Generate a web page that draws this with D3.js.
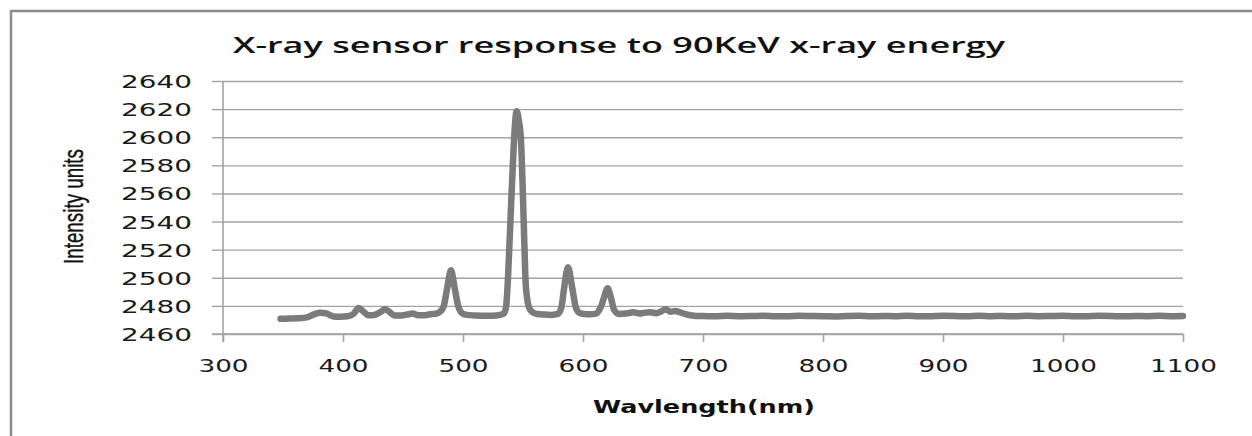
<!DOCTYPE html>
<html>
<head>
<meta charset="utf-8">
<script src="https://cdn.jsdelivr.net/npm/d3@7"></script>
<style>
  html, body { margin: 0; padding: 0; background: #ffffff; }
  svg { display: block; }
</style>
</head>
<body>
<svg id="chart" width="1252" height="436"></svg>
<script>
const chartTitle = "X-ray sensor response to 90KeV x-ray energy";
const xAxisTitle = "Wavlength(nm)";
const yAxisTitle = "Intensity units";

const xTicks = [300, 400, 500, 600, 700, 800, 900, 1000, 1100];
const yTicks = [2460, 2480, 2500, 2520, 2540, 2560, 2580, 2600, 2620, 2640];

const wavelength = [
  348, 355, 362, 370, 376, 381, 386, 392, 398, 404,
  409, 413, 417, 421, 426, 431, 435, 439, 443, 449,
  453, 458, 463, 468, 474, 478, 481, 484, 486.5, 490,
  493, 496, 499, 503, 510, 520, 528, 534, 536, 537.5,
  539.5, 541.5, 543, 544.7, 546.5, 548.3, 550.6, 552, 553.5, 555,
  558, 562, 568, 574, 579, 582, 584, 587.5, 591, 594,
  597, 601, 606, 611, 613.5, 615.5, 617.5, 620.5, 623.5, 626,
  630, 636, 642, 647, 652, 656, 661, 665, 669, 673,
  677, 681, 686, 691, 696, 700, 710, 720, 730, 740,
  750, 760, 770, 780, 790, 800, 810, 820, 830, 840,
  850, 860, 870, 880, 890, 900, 910, 920, 930, 940,
  950, 960, 970, 980, 990, 1000, 1010, 1020, 1030, 1040,
  1050, 1060, 1070, 1080, 1090, 1100
];
const intensity = [
  2470.8, 2471.0, 2471.2, 2471.8, 2474.0, 2475.2, 2474.6, 2472.5, 2472.3, 2472.6,
  2474.5, 2478.5, 2476.0, 2473.3, 2473.5, 2475.5, 2477.6, 2475.5, 2473.2, 2473.2,
  2473.8, 2474.5, 2473.3, 2473.4, 2474.2, 2474.6, 2476.0, 2480.0, 2491.0, 2505.3,
  2493.0, 2480.0, 2475.0, 2473.6, 2473.2, 2473.0, 2473.2, 2474.5, 2480.0, 2500.0,
  2540.0, 2580.0, 2605.0, 2618.5, 2612.0, 2598.0, 2540.0, 2500.0, 2485.0, 2479.0,
  2475.5, 2474.2, 2473.8, 2473.6, 2474.3, 2479.0, 2491.0, 2507.5, 2493.0, 2479.0,
  2475.0, 2474.2, 2474.0, 2474.5, 2477.0, 2480.5, 2486.0, 2492.5, 2485.0, 2477.0,
  2474.3, 2474.6, 2475.4, 2474.6, 2475.2, 2475.4, 2474.8, 2476.0, 2477.6, 2475.8,
  2476.3, 2475.4, 2474.0, 2473.2, 2472.8, 2472.8, 2472.6, 2472.9, 2472.7, 2472.8,
  2473.0, 2472.7, 2472.6, 2472.9, 2472.8, 2472.7, 2472.5, 2472.8, 2472.9, 2472.6,
  2472.8, 2472.7, 2473.0, 2472.6, 2472.7, 2472.9, 2472.8, 2472.6, 2473.0, 2472.7,
  2472.8, 2472.6, 2472.9, 2472.7, 2472.8, 2472.9, 2472.6, 2472.7, 2472.9, 2472.8,
  2472.6, 2472.8, 2472.7, 2472.9, 2472.7, 2472.8
];

const svg = d3.select("#chart");
const W = 1252, H = 436;
const plot = { left: 223, right: 1183, top: 81, bottom: 334 };

const x = d3.scaleLinear().domain([300, 1100]).range([plot.left, plot.right]);
const y = d3.scaleLinear().domain([2460, 2640]).range([plot.bottom, plot.top]);

// Outer frame (top and left edges visible)
svg.append("line").attr("x1", 11).attr("x2", W).attr("y1", 11).attr("y2", 11)
  .attr("stroke", "#8c8c8c").attr("stroke-width", 2.5);
svg.append("line").attr("x1", 11).attr("x2", 11).attr("y1", 10).attr("y2", H)
  .attr("stroke", "#8c8c8c").attr("stroke-width", 2.5);

// Gridlines via y axis
const gridColor = "#a3a3a3";
const yAxis = d3.axisLeft(y).tickValues(yTicks).tickSize(-(plot.right - plot.left)).tickFormat("");
const gGrid = svg.append("g").attr("transform", `translate(${plot.left},0)`).call(yAxis);
gGrid.select(".domain").remove();
gGrid.selectAll(".tick line").attr("stroke", gridColor).attr("stroke-width", 1.4);
gGrid.selectAll(".tick").append("line")
  .attr("x1", -11).attr("x2", 0).attr("stroke", gridColor).attr("stroke-width", 1.4);

// Y tick labels
gGrid.selectAll(".tick").append("text")
  .attr("x", -102).attr("y", 6.5)
  .attr("text-anchor", "start")
  .attr("font-family", "DejaVu Sans")
  .attr("font-size", 18)
  .attr("fill", "#1a1a1a")
  .attr("textLength", 71)
  .attr("lengthAdjust", "spacingAndGlyphs")
  .text(d => d);

// Y axis line
svg.append("line").attr("x1", plot.left).attr("x2", plot.left)
  .attr("y1", plot.top).attr("y2", plot.bottom + 8)
  .attr("stroke", gridColor).attr("stroke-width", 1.6);

// X axis
const xAxis = d3.axisBottom(x).tickValues(xTicks).tickSize(8).tickFormat("");
const gX = svg.append("g").attr("transform", `translate(0,${plot.bottom})`).call(xAxis);
gX.select(".domain").attr("stroke", gridColor).attr("stroke-width", 1.6)
  .attr("d", `M${plot.left - 11},0H${plot.right}`);
gX.selectAll(".tick line").attr("stroke", gridColor).attr("stroke-width", 1.6);
gX.selectAll(".tick").append("text")
  .attr("y", 38)
  .attr("text-anchor", "middle")
  .attr("font-family", "DejaVu Sans")
  .attr("font-size", 17)
  .attr("fill", "#1a1a1a")
  .attr("textLength", d => String(d).length * 16.7)
  .attr("lengthAdjust", "spacingAndGlyphs")
  .text(d => d);

// Data line
const line = d3.line()
  .x((d, i) => x(wavelength[i]))
  .y((d, i) => y(intensity[i]))
  .curve(d3.curveMonotoneX);

svg.append("path")
  .datum(intensity)
  .attr("d", line)
  .attr("fill", "none")
  .attr("stroke", "#7b7b7b")
  .attr("stroke-width", 6.5)
  .attr("stroke-linejoin", "round")
  .attr("stroke-linecap", "round");

// Title
svg.append("text")
  .attr("x", 233).attr("y", 53)
  .attr("font-family", "Open Sans")
  .attr("font-weight", 600)
  .attr("font-size", 21)
  .attr("fill", "#111")
  .attr("textLength", 772)
  .attr("lengthAdjust", "spacingAndGlyphs")
  .text(chartTitle);

// X axis title
svg.append("text")
  .attr("x", 593).attr("y", 413)
  .attr("font-family", "DejaVu Sans")
  .attr("font-weight", "bold")
  .attr("font-size", 18)
  .attr("fill", "#111")
  .attr("textLength", 222)
  .attr("lengthAdjust", "spacingAndGlyphs")
  .text(xAxisTitle);

// Y axis title (rotated, horizontally stretched)
svg.append("text")
  .attr("transform", "translate(83,206.5) scale(1.5,1) rotate(-90)")
  .attr("x", 0).attr("y", 0)
  .attr("text-anchor", "middle")
  .attr("font-family", "Liberation Sans Narrow, Liberation Sans")
  .attr("font-size", 19)
  .attr("fill", "#111")
  .attr("stroke", "#111")
  .attr("stroke-width", 0.25)
  .attr("textLength", 115)
  .attr("lengthAdjust", "spacingAndGlyphs")
  .text(yAxisTitle);
</script>
</body>
</html>
